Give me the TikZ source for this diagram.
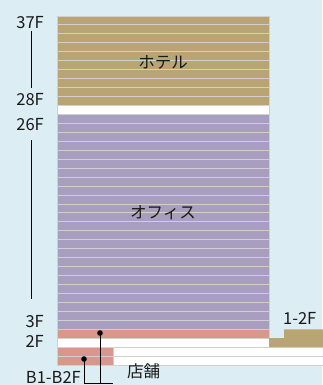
\documentclass[tikz,border=0pt]{standalone}
\usepackage{fontspec}
\setmainfont{Noto Sans CJK JP}
\definecolor{bg}{HTML}{DCEDF3}
\definecolor{hotel}{HTML}{B9A573}
\definecolor{office}{HTML}{A79EC0}
\definecolor{shop}{HTML}{D9968A}
\definecolor{sep}{HTML}{D2D0CC}
\tikzset{
  lbl/.style={font=\fontsize{16.5}{18}\selectfont, text=black!90, inner sep=0pt},
  floorline/.style={draw=sep, line width=0.9pt},
  block/.style={draw=sep, line width=0.8pt},
  conn/.style={draw=black, line width=0.8pt},
  dot/.style={circle, fill=black, inner sep=0pt, minimum size=5.6pt}
}
\begin{document}
\begin{tikzpicture}[x=1pt,y=-1pt]
\useasboundingbox[fill=bg] (0,0) rectangle (322,385);
\def\h{8.95}
% hotel 37F-28F
\path[block, fill=hotel] (57,16) rectangle (269,16+10*\h);
\foreach \i in {1,...,9} \draw[floorline] (57,16+\i*\h) -- (269,16+\i*\h);
% 27F
\path[block, fill=white] (57,16+10*\h) rectangle (269,16+11*\h);
% office 26F-3F
\path[block, fill=office] (57,16+11*\h) rectangle (269,16+35*\h);
\foreach \i in {12,...,34} \draw[floorline] (57,16+\i*\h) -- (269,16+\i*\h);
% 2F shop
\path[block, fill=shop] (57,16+35*\h) rectangle (269,16+36*\h);
% 1F
\path[block, fill=white] (57,16+36*\h) rectangle (269,16+37*\h);
% basement rows
\path[block, fill=white] (113,16+37*\h) rectangle (324,16+38*\h);
\path[block, fill=white] (113,16+38*\h) rectangle (324,16+39*\h);
\path[block, fill=shop] (57,16+37*\h) rectangle (113,16+38*\h);
\path[block, fill=shop] (57,16+38*\h) rectangle (113,16+39*\h);
% annex 1-2F
\path[fill=hotel] (269,16+36*\h) -- (284,16+36*\h) -- (284,16+35*\h) -- (324,16+35*\h)
  -- (324,16+37*\h) -- (269,16+37*\h) -- cycle;
% labels
\node[lbl, anchor=east] (f37) at (44,22.5) {37F};
\node[lbl, anchor=east] (f28) at (44,100) {28F};
\node[lbl, anchor=east] (f26) at (44,125) {26F};
\node[lbl, anchor=east] (f3) at (44,322) {3F};
\node[lbl, anchor=east] (f2) at (44,341) {2F};
\node[lbl, anchor=east] (fb) at (81,377.5) {B1-B2F};
\node[lbl, anchor=west] (f12) at (283,318) {1-2F};
\node[lbl] (hotel) at (163,62) {ホテル};
\node[lbl] (office) at (163,213) {オフィス};
\node[lbl, anchor=west] (shop) at (127,371) {店舗};
% range lines
\coordinate (a1) at (31.3,31);
\coordinate (a2) at (31.3,88);
\coordinate (b1) at (31.3,140);
\coordinate (b2) at (31.3,299);
\draw[conn] (a1) -- (a2);
\draw[conn] (b1) -- (b2);
% connectors
\node[dot] (d1) at (100,333) {};
\node[dot] (d2) at (84,359) {};
\coordinate (c1) at (100,383);
\coordinate (c2) at (84,383);
\coordinate (c3) at (113,383);
\draw[conn] (d1.center) -- (c1);
\draw[conn] (d2.center) -- (c2) -- (c3);
\end{tikzpicture}
\end{document}
